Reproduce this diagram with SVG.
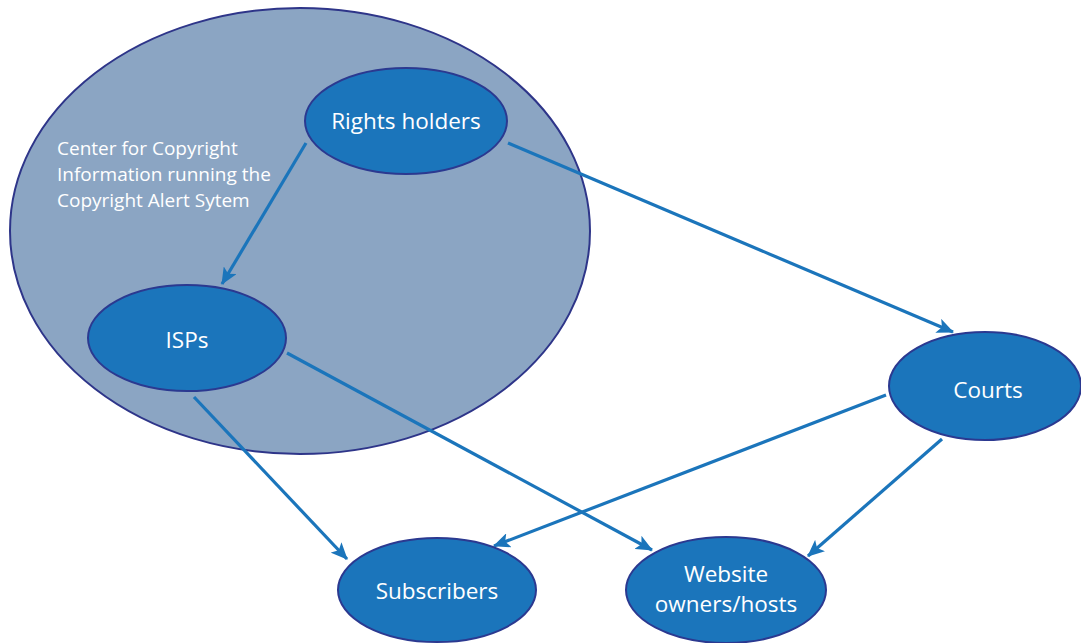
<svg xmlns="http://www.w3.org/2000/svg" width="1081" height="643" viewBox="0 0 1081 643">
<style>
.node{fill:#1b75bb;stroke:#2b3990;stroke-width:2}
.lbl{fill:#ffffff;font-family:"Open Sans","Liberation Sans",sans-serif;font-size:22.5px;text-anchor:middle}
.cap{fill:#ffffff;font-family:"Open Sans","Liberation Sans",sans-serif;font-size:19px}
.edge{stroke:#1b75bb;stroke-width:3.2;fill:none;marker-end:url(#ah)}
</style>
<defs>
<marker id="ah" viewBox="0 0 17 15" refX="16" refY="7.5" markerWidth="17" markerHeight="15" markerUnits="userSpaceOnUse" orient="auto">
<path d="M0,0 L17,7.5 L0,15 L4,7.5 Z" fill="#1b75bb"/>
</marker>
</defs>
<rect width="1081" height="643" fill="#ffffff"/>
<g id="ccI">
<ellipse cx="300" cy="231" rx="290" ry="223" fill="#8ba5c3" stroke="#2e3589" stroke-width="2"/>
<text class="cap" x="57" y="155">Center for Copyright</text>
<text class="cap" x="57" y="181">Information running the</text>
<text class="cap" x="57" y="207">Copyright Alert Sytem</text>
</g>
<g id="connectors">
<line class="edge" x1="306" y1="143" x2="222" y2="284"/>
<line class="edge" x1="508" y1="143" x2="953" y2="332"/>
<line class="edge" x1="194" y1="397" x2="347" y2="559"/>
<line class="edge" x1="287" y1="353" x2="652" y2="550"/>
<line class="edge" x1="886" y1="395" x2="494" y2="546"/>
<line class="edge" x1="942" y1="439" x2="808" y2="556"/>
</g>
<g id="rights">
<ellipse class="node" cx="406" cy="121" rx="101" ry="53"/>
<text class="lbl" x="406" y="129">Rights holders</text>
</g>
<g id="isps">
<ellipse class="node" cx="187" cy="338" rx="99" ry="53"/>
<text class="lbl" x="187" y="348">ISPs</text>
</g>
<g id="courts">
<ellipse class="node" cx="985" cy="386" rx="96" ry="54"/>
<text class="lbl" x="988" y="398">Courts</text>
</g>
<g id="subscribers">
<ellipse class="node" cx="437" cy="590" rx="99" ry="52"/>
<text class="lbl" x="437" y="599">Subscribers</text>
</g>
<g id="website">
<ellipse class="node" cx="726" cy="590" rx="100" ry="53"/>
<text class="lbl" x="726" y="582">Website</text>
<text class="lbl" x="726" y="612">owners/hosts</text>
</g>
</svg>
